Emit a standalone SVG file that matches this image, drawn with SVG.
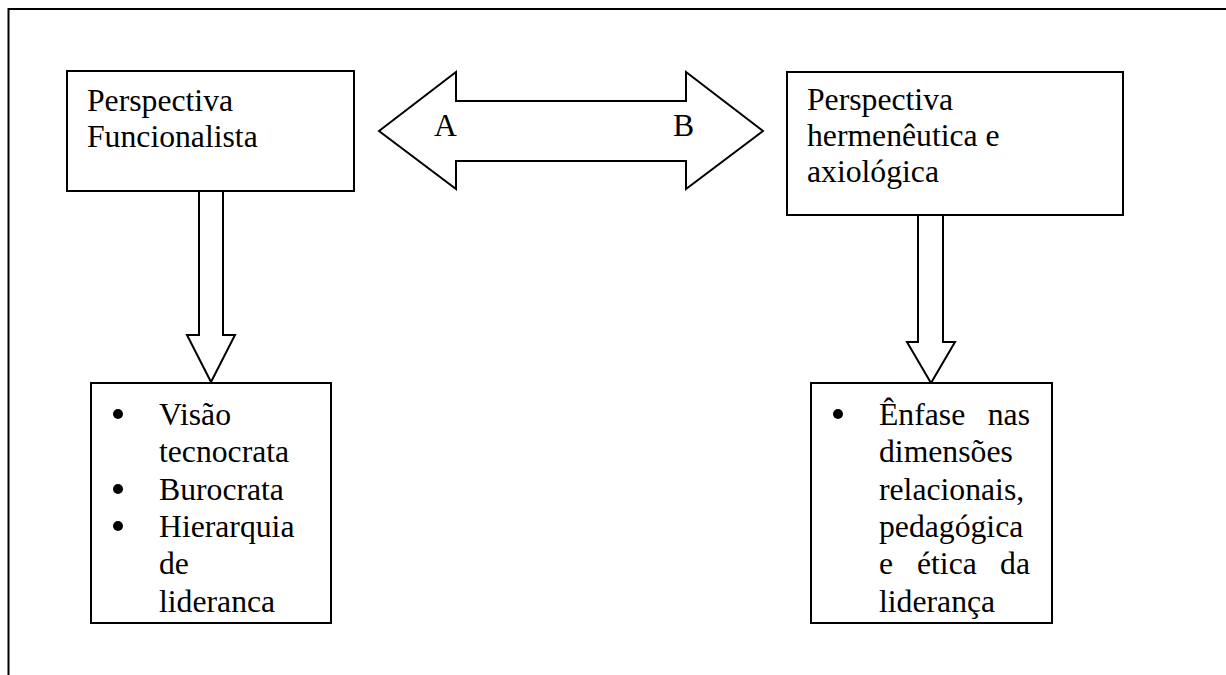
<svg xmlns="http://www.w3.org/2000/svg" width="1226" height="675" viewBox="0 0 1226 675">
<style>
.box{fill:#fff;stroke:#000;stroke-width:2}
.arr{fill:#fff;stroke:#000;stroke-width:2;stroke-linejoin:miter}
text{font-family:"Liberation Serif","Times New Roman",serif;font-size:31.7px;fill:#000}
</style>
<rect x="0" y="0" width="1226" height="675" fill="#fff"/>
<g id="frame"><path d="M8.5 700 V9 H1240" fill="none" stroke="#000" stroke-width="2"/></g>
<g id="connectors">
<path class="arr" d="M379 131 L456 72 V101 H686 V72 L763 131 L686 189 V161 H456 V189 Z"/>
<text x="434" y="136">A</text>
<text x="673" y="136">B</text>
<path class="arr" d="M199 191 V335 H187 L211 382 L235 335 H223 V191"/>
<path class="arr" d="M918 215 V342 H907 L931 383 L955 342 H943 V215"/>
</g>
<g id="node-funcionalista">
<rect class="box" x="67" y="71" width="287" height="120"/>
<text x="87" y="111">Perspectiva</text>
<text x="87" y="147">Funcionalista</text>
</g>
<g id="node-hermeneutica">
<rect class="box" x="787" y="72" width="336" height="143"/>
<text x="807" y="110">Perspectiva</text>
<text x="807" y="146">hermenêutica e</text>
<text x="807" y="182">axiológica</text>
</g>
<g id="node-lista1">
<rect class="box" x="91" y="383" width="240" height="240"/>
<circle cx="118" cy="414" r="5"/>
<circle cx="118" cy="489" r="5"/>
<circle cx="118" cy="526" r="5"/>
<text x="159" y="425">Visão</text>
<text x="159" y="462">tecnocrata</text>
<text x="159" y="500">Burocrata</text>
<text x="159" y="537">Hierarquia</text>
<text x="159" y="574">de</text>
<text x="159" y="612">lideranca</text>
</g>
<g id="node-lista2">
<rect class="box" x="811" y="383" width="241" height="240"/>
<circle cx="838" cy="414" r="5"/>
<text x="879" y="425">Ênfase</text>
<text x="1030" y="425" text-anchor="end">nas</text>
<text x="879" y="462">dimensões</text>
<text x="879" y="500">relacionais,</text>
<text x="879" y="537">pedagógica</text>
<text x="879" y="574">e</text>
<text x="917" y="574">ética</text>
<text x="1030" y="574" text-anchor="end">da</text>
<text x="879" y="612">liderança</text>
</g>
</svg>
